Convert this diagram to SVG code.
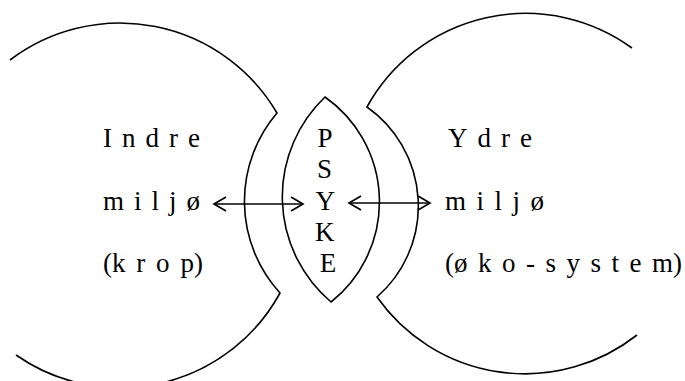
<svg xmlns="http://www.w3.org/2000/svg" width="685" height="381" viewBox="0 0 685 381">
<defs>
<style>
.shape{fill:none;stroke:#000;stroke-width:1.6;stroke-linejoin:miter}
.lbl{font-family:"Liberation Serif","Times New Roman",serif;font-size:27px;fill:#000}
.conn{stroke:#000;stroke-width:1.6;fill:none}
</style>
<marker id="chev" viewBox="-14 -9 16 18" refX="0" refY="0" markerWidth="16" markerHeight="18" markerUnits="userSpaceOnUse" orient="auto-start-reverse">
<path d="M-12,-7 L0,0 L-12,7" fill="none" stroke="#000" stroke-width="1.7"/>
</marker>
</defs>
<rect width="685" height="381" fill="#fff"/>
<g id="node-indre">
<path class="shape" d="M10,60 A182,182 0 0 1 277,113 A136,136 0 0 0 280,293 A182,182 0 0 1 16,355"/>
<text class="lbl" x="103" y="147" style="letter-spacing:10px">Indre</text>
<text class="lbl" x="103" y="210" style="letter-spacing:10px">miljø</text>
<text class="lbl" x="103" y="272">(<tspan style="letter-spacing:10.8px">kro</tspan>p)</text>
</g>
<g id="node-psyke">
<path class="shape" d="M325,97 A138,138 0 0 0 331,302 A128,128 0 0 0 325,97 Z"/>
<text class="lbl" text-anchor="middle">
<tspan x="328" y="147">P</tspan>
<tspan x="328" y="178">S</tspan>
<tspan x="328" y="210">Y</tspan>
<tspan x="328" y="241">K</tspan>
<tspan x="328" y="272">E</tspan>
</text>
</g>
<g id="node-ydre">
<path class="shape" d="M632,48 A181,181 0 0 0 367,107 A121,121 0 0 1 377,297 A181,181 0 0 0 637,335"/>
<text class="lbl" x="448" y="147" style="letter-spacing:10px">Ydre</text>
<text class="lbl" x="445" y="210" style="letter-spacing:10.5px">miljø</text>
<text class="lbl" x="445" y="272">(<tspan style="letter-spacing:10.5px">øko-syste</tspan>m)</text>
</g>
<g id="connectors">
<line class="conn" x1="214" y1="204" x2="303" y2="204" marker-start="url(#chev)" marker-end="url(#chev)"/>
<line class="conn" x1="349" y1="203" x2="430" y2="203" marker-start="url(#chev)" marker-end="url(#chev)"/>
</g>
</svg>
